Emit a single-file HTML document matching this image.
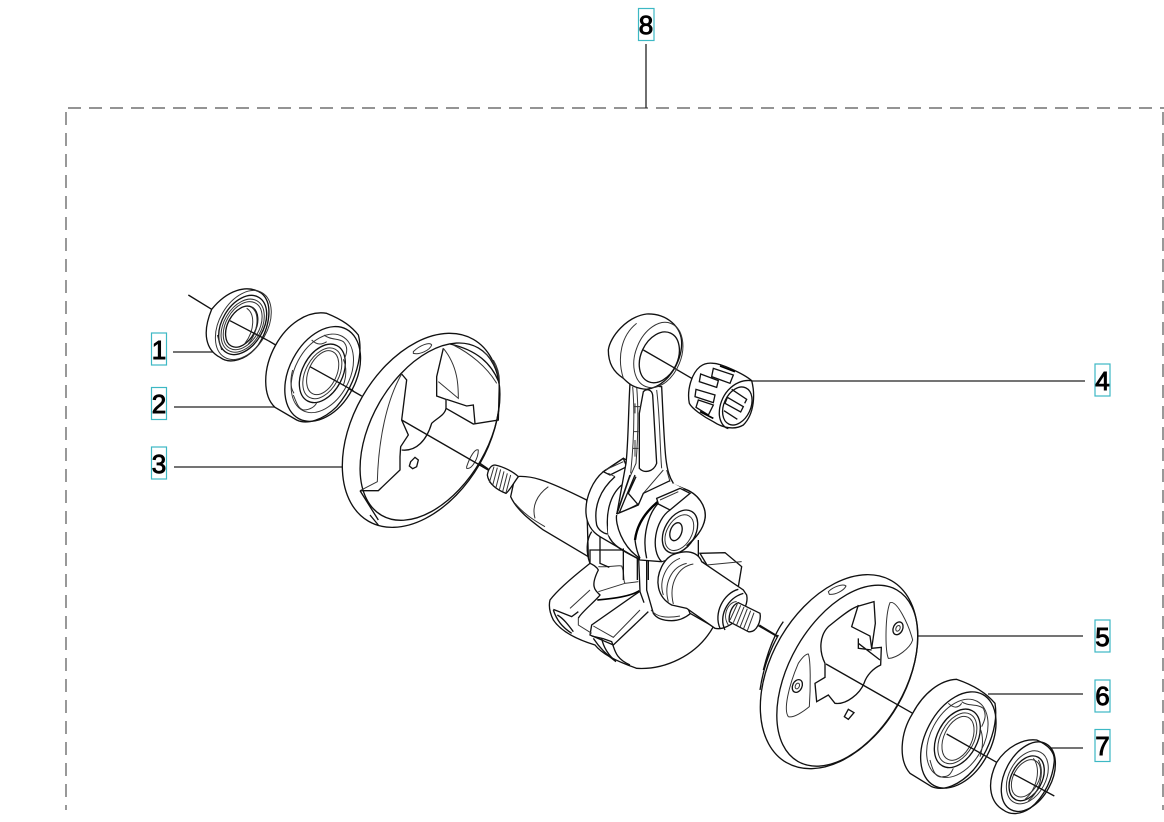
<!DOCTYPE html>
<html><head><meta charset="utf-8"><style>
html,body{margin:0;padding:0;background:#fff}
svg{display:block}
.t{font-family:"Liberation Sans",sans-serif;font-size:26px;fill:#000;text-anchor:middle;stroke:#000;stroke-width:.9}
.b{fill:#fff;stroke:#3db8c4;stroke-width:1.2}
.l{fill:none;stroke:#222;stroke-width:1.3}
.d{fill:none;stroke:#555;stroke-width:1.2;stroke-dasharray:13 8}
g.z path,g.z ellipse,g.z line{stroke:#111;stroke-width:4;fill:none}
g.z .w{fill:#fff}
g.z .f{stroke-width:3;stroke:#333}
g.z .k{stroke-width:7;stroke:#000}
</style></head><body>
<svg width="1164" height="822" viewBox="0 0 1164 822" xmlns="http://www.w3.org/2000/svg">
<rect width="1164" height="822" fill="#fff"/>
<path class="d" d="M68 108H1164"/>
<path class="d" d="M66 112V810"/>
<path class="d" d="M1163 112V810"/>
<path class="l" d="M646 44V108M173 352H213M174 407H275M174 467H342M752 381H1085M918 636H1083M988 694H1083M1050 748H1083"/>

<!-- LEFT: seal, bearing, disc -->
<g class="z" transform="translate(130 270) scale(.33333)">
<path d="M175 75L245 118M415 212L437 225M540 290L695 378M820 450L1075 600"/>
<path class="w" d="M245 118C290 62 350 40 395 70C430 100 420 170 385 225C350 270 300 285 270 262C228 240 215 190 245 118Z"/>
<ellipse class="f" cx="340" cy="165" rx="72" ry="112" transform="rotate(30 340 165)"/>
<ellipse cx="338" cy="165" rx="62" ry="96" transform="rotate(30 338 165)"/>
<ellipse class="f" cx="338" cy="167" rx="56" ry="86" transform="rotate(30 338 167)"/>
<ellipse class="f" cx="338" cy="167" rx="50" ry="78" transform="rotate(30 338 167)"/>
<ellipse cx="335" cy="170" rx="42" ry="66" transform="rotate(28 335 170)"/>
<path class="f" d="M350 115C375 130 375 180 345 220M365 112C390 130 385 185 355 222M262 195L275 240"/>
<path d="M300 152L415 212"/>

<path class="w" d="M437 225C470 165 530 120 590 130C640 150 665 170 685 195C700 250 680 340 620 410C580 450 530 465 500 450L435 412C400 380 395 300 437 225Z"/>
<ellipse cx="578" cy="312" rx="100" ry="152" transform="rotate(28 578 312)"/>
<ellipse class="f" cx="577" cy="310" rx="82" ry="126" transform="rotate(28 577 310)"/>
<ellipse cx="577" cy="310" rx="60" ry="94" transform="rotate(28 577 310)"/>
<ellipse class="f" cx="577" cy="310" rx="50" ry="82" transform="rotate(28 577 310)"/>
<ellipse class="f" cx="578" cy="308" rx="42" ry="70" transform="rotate(25 578 308)"/>
<path class="f" d="M582 195C600 210 625 205 640 215C655 230 650 250 645 262M490 375C500 400 505 415 520 420C540 420 555 410 560 398M545 210C560 225 575 225 590 215M640 268C650 290 650 320 640 345M488 300C480 330 482 355 492 370"/>
<path d="M540 290L670 362"/>

<ellipse class="w" cx="873" cy="481" rx="203" ry="315" transform="rotate(30 873 481)"/>
<ellipse cx="900" cy="485" rx="175" ry="290" transform="rotate(30 900 485)"/>
<path class="w f" d="M850 245C870 225 900 215 905 225C900 240 870 255 850 250Z"/>
<path class="f" d="M1010 590C1020 560 1035 535 1045 540C1045 565 1025 600 1010 595Z"/>
<path d="M690 662H745L810 600V560L812 530L835 495L815 450L830 330L815 312"/>
<path class="f" d="M815 312C770 390 745 510 742 635L690 662"/>
<path d="M815 540C860 545 890 510 905 460C920 445 945 435 948 415V388L920 378V320L940 235"/>
<path class="f" d="M940 235C985 290 985 350 985 385L925 335"/>
<path d="M948 415L1030 462L1105 450L1108 340C1085 280 1040 240 960 222"/>
<path d="M950 388L1010 408L1030 405L1035 460"/>
<path class="f" d="M970 225C1020 250 1070 290 1100 340"/>
<path class="f" d="M1090 270C1105 295 1110 320 1108 345M1060 245C1085 265 1100 290 1106 320"/>
<path d="M690 662L745 750M720 735L745 765" />
<path d="M842 575L855 562L865 570L860 590L848 596L838 588Z"/>
<path d="M815 450L1075 600"/>
</g>

<!-- CRANK: left shaft (origin 480,300) -->
<g class="z" transform="translate(480 300) scale(.33333)">
<path d="M0 490L25 507"/>
<path class="w" d="M105 530C150 525 190 535 320 600L325 770L190 690C150 660 110 630 92 590Z"/>
<path class="f" d="M205 560C170 585 155 620 165 655M105 610C130 640 160 660 195 680"/>
<path class="w" d="M45 495C70 500 100 515 115 530C100 550 90 570 78 580C50 570 25 550 22 525C25 505 35 495 45 495Z"/>
<path class="f" d="M42 500L28 548M52 503L38 556M62 508L48 562M72 514L58 570M82 520L68 575M92 525L78 578"/>
</g>

<!-- CRANK: counterweights (origin 540,550) -->
<g class="z" transform="translate(540 550) scale(.33333)">
<path class="w" d="M150 40C125 60 60 110 30 150C25 170 30 190 40 210C60 240 100 265 165 285C185 310 220 330 290 355C370 360 470 320 520 230L450 190L370 0H150Z"/>
<path d="M40 178L95 200L115 185M40 180C50 210 65 230 95 250M52 195C70 205 85 225 100 245"/>
<path class="f" d="M90 175L150 120"/>
<path d="M115 205C120 190 170 150 180 135C165 120 150 110 175 60C170 50 160 45 150 40"/>
<path class="f" d="M175 50C210 52 235 45 245 48C255 70 248 90 255 100L295 95M175 125L255 100"/>
<path class="k" style="stroke-width:5" d="M172 150C220 145 270 140 298 122"/>
<path d="M298 125L155 225L150 255L220 285L325 185"/>
<path class="f" d="M160 228L220 262L300 180M115 205L115 225L155 250"/>
<path d="M295 0L300 125L312 158M320 0L320 120L340 190C350 205 370 212 395 212C420 212 440 200 452 190"/>
<path class="f" d="M333 180C350 202 380 205 420 198"/>
<path d="M155 258L185 265C190 290 205 315 228 335M187 265L215 275C225 300 225 325 270 345M160 265C180 295 200 315 228 335"/>
</g>

<!-- CRANK: big end body (origin 580,450) -->
<g class="z" transform="translate(580 450) scale(.33333)">
<path class="w" d="M70 65C40 90 15 140 18 190C20 220 35 245 60 260L180 330L245 335C300 320 370 250 375 205C380 170 355 130 310 115L260 95L130 25Z"/>
<path d="M35 245C18 270 18 310 30 340M60 260V340L88 352"/>
<path d="M105 80C60 120 40 170 50 225C55 240 70 250 82 252M125 105C90 135 75 190 85 255C95 285 130 305 180 328"/>
<path d="M70 65L130 25L140 50L90 75Z"/>
<path class="f" d="M75 60L130 35M105 80L85 70"/>
<path d="M130 295V390M172 325V390M205 330V390"/>
</g>

<!-- CRANK: rod and small end (origin 480,300) -->
<g class="z" transform="translate(480 300) scale(.33333)">
<path d="M490 150L640 238"/>
<path class="w" d="M450 250C445 330 445 430 438 490L410 645L470 615L580 550C555 510 555 470 545 260Z"/>
<path class="f" d="M458 260C465 340 460 440 452 520M470 260C475 320 475 400 468 490L448 535L412 640M530 270C540 350 540 450 545 505"/>
<path class="w" d="M490 275C500 265 515 268 518 285L530 490C520 518 490 520 478 505L478 340Z"/>
<path class="f" d="M462 320H482M460 395H475M458 445H475M465 310V340M465 420V470"/>
<path class="w" d="M385 150C390 110 440 50 500 42C560 40 605 80 605 130C605 190 560 260 500 268C460 265 445 250 430 235C400 215 385 190 385 150Z"/>
<ellipse class="f" cx="535" cy="165" rx="68" ry="102" transform="rotate(22 535 165)"/>
<ellipse cx="538" cy="172" rx="55" ry="80" transform="rotate(25 538 172)"/>
<path class="f" d="M470 70C425 105 410 170 430 235"/>
<path d="M490 150L582 203"/>
</g>

<!-- CRANK: big end front detail (origin 580,450) -->
<g class="z" transform="translate(580 450) scale(.33333)">
<path d="M150 75L110 192L175 165L145 130L168 80M165 75L115 195"/>
<path class="f" d="M250 60L190 130L175 165M260 60L270 95"/>
<path class="w" d="M175 165C190 135 240 100 280 100L310 116C250 130 175 190 165 270L180 325C140 300 105 280 85 255C80 215 90 195 110 192Z" style="stroke:none"/>
<path d="M110 192L175 165L190 130L270 92"/>
<path d="M110 195C105 220 125 290 180 325"/>
<path class="k" d="M310 118C250 130 175 190 165 270"/>
<path d="M165 270C168 295 175 315 180 325"/>
<path d="M235 160C205 190 185 260 200 325"/>
<path class="w" d="M270 180C220 205 205 300 245 333C300 320 370 250 375 205C380 170 355 130 310 115L290 120Z" style="stroke:none"/>
<path d="M270 180C225 210 210 300 245 335M310 116C355 130 380 170 375 205C370 240 345 265 320 288"/>
<path class="w" d="M230 145L300 115L330 130L270 180L235 162Z"/>
<path class="f" d="M240 150L295 125"/>
<ellipse cx="300" cy="245" rx="46" ry="70" transform="rotate(30 300 245)"/>
<ellipse class="f" cx="298" cy="248" rx="37" ry="58" transform="rotate(30 298 248)"/>
<ellipse cx="288" cy="245" rx="17" ry="28" transform="rotate(20 288 245)"/>
<path d="M355 270V320"/>
</g>

<!-- CRANK: right web and shaft (origin 480,300) -->
<g class="z" transform="translate(480 300) scale(.33333)">
<path class="w" d="M660 760L735 758L785 800L775 860L690 810Z"/>
<path class="f" d="M680 795L785 785M668 785L695 810"/>
<path class="w" d="M590 760C640 745 660 770 665 785L790 870L800 885C810 930 750 995 705 985L620 925L575 915C530 890 525 840 545 800C555 780 570 765 590 760Z"/>
<path class="f" d="M600 775C560 790 535 840 550 885M620 790C575 800 550 850 565 905M640 792C595 800 565 850 580 912"/>
<path d="M720 985C700 940 730 880 775 868M735 990C715 950 740 895 790 880"/>
<path class="f" d="M745 975C725 945 745 905 770 905"/>
<path class="w" d="M775 908L840 940C845 960 830 1000 805 995L748 965C745 945 755 915 775 908Z"/>
<path class="f" d="M772 912L750 960M782 916L760 968M792 921L770 975M802 926L780 982M812 932L790 988M822 938L802 992"/>
<path d="M838 975L892 1008"/>
</g>

<!-- needle bearing (origin 680,350) -->
<g class="z" transform="translate(680 350) scale(.33333)">
<path class="w" d="M60 50C35 70 20 120 28 160C35 175 70 200 100 215C130 235 165 240 190 225C225 190 225 130 215 92C190 70 120 40 100 40C85 38 70 42 60 50Z"/>
<path d="M215 92C160 85 115 140 118 195C120 215 130 232 145 236"/>
<ellipse cx="172" cy="168" rx="40" ry="60" transform="rotate(25 172 168)"/>
<path d="M62 72L115 92L110 112L58 95ZM48 118L105 135L100 158L45 140ZM55 150L100 165L85 195L48 172ZM100 55L160 75L150 100L95 80Z"/>
<path class="k" style="stroke-width:5" d="M60 185L100 205M120 48L165 65"/>
<path d="M142 142L190 170L182 186L135 160ZM155 118L200 148L194 160M132 182L172 208"/>
</g>

<!-- RIGHT: disc, bearing, seal -->
<g class="z" transform="translate(720 560) scale(.33333)">
<path d="M115 197L172 230"/>
<ellipse class="w" cx="357" cy="335" rx="203" ry="315" transform="rotate(30 357 335)"/>
<ellipse cx="382" cy="347" rx="174" ry="297" transform="rotate(30 382 347)"/>
<path class="f" d="M325 95C340 80 370 70 378 78C372 92 345 105 328 103Z"/>
<path d="M175 225C150 270 130 320 120 390M190 185C165 220 145 270 130 330"/>
<path d="M410 140L462 125L466 190L455 265L484 262L482 315C460 325 440 345 432 370C420 400 380 435 345 430L325 405L290 425L285 370L315 352V310C295 270 300 225 325 200C350 180 385 150 410 140Z"/>
<path d="M415 135L395 200L450 228L455 265M415 250L480 300M415 235V265L455 270"/>
<path class="f" d="M510 128C530 120 565 190 578 240C570 265 530 295 505 295C495 270 495 165 510 128Z"/>
<ellipse cx="534" cy="205" rx="14" ry="20" transform="rotate(25 534 205)"/>
<ellipse class="f" cx="534" cy="205" rx="6" ry="9" transform="rotate(25 534 205)"/>
<path class="f" d="M265 282C272 300 272 380 268 440C250 455 220 475 205 470C190 450 205 380 235 310C245 295 255 282 265 282Z"/>
<ellipse cx="232" cy="378" rx="14" ry="20" transform="rotate(25 232 378)"/>
<ellipse class="f" cx="232" cy="378" rx="6" ry="9" transform="rotate(25 232 378)"/>
<path d="M385 448L402 458L385 478L373 470Z"/>
<path d="M318 312L578 460"/>
<path class="w" d="M578 460C610 400 660 360 710 358C760 375 800 400 825 430C835 490 810 570 760 630C720 675 670 695 635 680L570 640C535 600 540 520 578 460Z"/>
<ellipse cx="715" cy="540" rx="98" ry="155" transform="rotate(28 715 540)"/>
<ellipse class="f" cx="712" cy="535" rx="80" ry="126" transform="rotate(28 712 535)"/>
<ellipse cx="712" cy="535" rx="60" ry="94" transform="rotate(28 712 535)"/>
<ellipse class="f" cx="712" cy="535" rx="50" ry="82" transform="rotate(28 712 535)"/>
<ellipse class="f" cx="714" cy="535" rx="42" ry="70" transform="rotate(25 714 535)"/>
<path class="f" d="M725 425C745 440 770 430 790 445C800 465 795 480 785 500M630 600C640 640 650 655 670 650C690 650 695 635 700 625M685 430C700 445 715 445 725 430M780 505C790 525 790 560 780 590"/>
<path d="M680 522L830 607"/>
<path class="w" d="M830 607C860 560 910 535 950 540C985 555 1003 575 1003 600C1000 650 975 710 930 745C900 765 870 765 850 750C815 730 795 680 830 607Z"/>
<ellipse cx="925" cy="650" rx="70" ry="112" transform="rotate(28 925 650)"/>
<ellipse class="f" cx="922" cy="652" rx="55" ry="85" transform="rotate(28 922 652)"/>
<ellipse cx="920" cy="655" rx="46" ry="72" transform="rotate(28 920 655)"/>
<ellipse class="f" cx="918" cy="655" rx="38" ry="60" transform="rotate(28 918 655)"/>
<path class="f" d="M940 595C965 625 950 690 915 718M955 600C975 635 960 695 925 722"/>
<path d="M880 642L1003 708"/>
</g>

<rect class="b" x="151.5" y="333" width="15" height="32"/><text class="t" x="159" y="359">1</text>
<rect class="b" x="151.5" y="387.5" width="15" height="32"/><text class="t" x="159" y="413">2</text>
<rect class="b" x="151.5" y="447" width="15" height="32"/><text class="t" x="159" y="473">3</text>
<rect class="b" x="1095" y="364" width="15" height="32"/><text class="t" x="1102.5" y="390">4</text>
<rect class="b" x="1095" y="620" width="15" height="32"/><text class="t" x="1102.5" y="646">5</text>
<rect class="b" x="1095" y="680" width="15" height="32"/><text class="t" x="1102.5" y="705">6</text>
<rect class="b" x="1095" y="729.5" width="15" height="32"/><text class="t" x="1102.5" y="755">7</text>
<rect class="b" x="638.5" y="8.5" width="15.5" height="32"/><text class="t" x="646" y="34">8</text>
</svg>
</body></html>
